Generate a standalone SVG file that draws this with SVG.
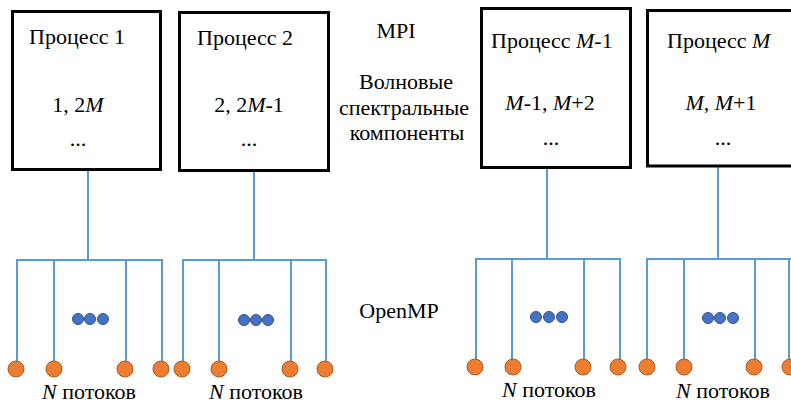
<svg xmlns="http://www.w3.org/2000/svg" width="791" height="403" viewBox="0 0 791 403">
<style>
.box{fill:#fff;stroke:#000;stroke-width:3}
.t{font-family:'Liberation Serif',serif;font-size:22px;fill:#000}
.m{text-anchor:middle}
.i{font-style:italic}
.ln{fill:none;stroke:#5B9BD5;stroke-width:2}
.th{fill:#ED7D31;stroke:#AE5A21;stroke-width:1}
.dt{fill:#4472C4;stroke:#2F528F;stroke-width:1}
</style>
<rect width="791" height="403" fill="#fff"/>
<g id="connectors">
<path class="ln" d="M88,170V260M17,362V260H162V362M54,260V362M126,260V362"/>
<path class="ln" d="M254,171V260M183,362V260H326V362M219,260V362M291,260V362"/>
<path class="ln" d="M547,168V259M476,360V259H620V360M512,259V360M584,259V360"/>
<path class="ln" d="M718,166V259M647,360V259H791M684,259V360M755,259V360M789,259V360"/>
</g>
<g id="process1">
<rect class="box" x="12.5" y="11.5" width="148" height="158"/>
<text class="t" x="29" y="44">Процесс 1</text>
<text class="t m" x="78" y="112">1, 2<tspan class="i">M</tspan></text>
<text class="t m" x="78" y="146">...</text>
</g>
<g id="process2">
<rect class="box" x="179.5" y="12.5" width="149" height="158"/>
<text class="t" x="197" y="45">Процесс 2</text>
<text class="t m" x="249" y="112">2, 2<tspan class="i">M</tspan>-1</text>
<text class="t m" x="249" y="146">...</text>
</g>
<g id="processM1">
<rect class="box" x="481.5" y="8.5" width="149" height="159"/>
<text class="t" x="491" y="48">Процесс <tspan class="i">M</tspan>-1</text>
<text class="t m" x="550" y="110"><tspan class="i">M</tspan>-1, <tspan class="i">M</tspan>+2</text>
<text class="t m" x="551" y="145">...</text>
</g>
<g id="processM">
<rect class="box" x="647.5" y="10.5" width="160" height="155.5"/>
<text class="t" x="667" y="48">Процесс <tspan class="i">M</tspan></text>
<text class="t m" x="721" y="110"><tspan class="i">M</tspan>, <tspan class="i">M</tspan>+1</text>
<text class="t m" x="723" y="145">...</text>
</g>
<g id="labels">
<text class="t m" x="396" y="38">MPI</text>
<text class="t m" x="406" y="89">Волновые</text>
<text class="t m" x="404" y="115">спектральные</text>
<text class="t m" x="407" y="140">компоненты</text>
<text class="t m" x="399" y="318">OpenMP</text>
</g>
<g id="threads1">
<circle class="th" cx="16" cy="369" r="8"/><circle class="th" cx="54" cy="369" r="8"/>
<circle class="th" cx="125" cy="369" r="8"/><circle class="th" cx="161" cy="369" r="8"/>
<circle class="dt" cx="78" cy="319" r="5.5"/><circle class="dt" cx="90" cy="319" r="5.5"/><circle class="dt" cx="103" cy="319" r="5.5"/>
<text class="t" x="42" y="399"><tspan class="i">N</tspan> потоков</text>
</g>
<g id="threads2">
<circle class="th" cx="182" cy="369" r="8"/><circle class="th" cx="219" cy="369" r="8"/>
<circle class="th" cx="290" cy="369" r="8"/><circle class="th" cx="325" cy="369" r="8"/>
<circle class="dt" cx="244" cy="320" r="5.5"/><circle class="dt" cx="256" cy="320" r="5.5"/><circle class="dt" cx="268" cy="320" r="5.5"/>
<text class="t" x="209" y="399"><tspan class="i">N</tspan> потоков</text>
</g>
<g id="threads3">
<circle class="th" cx="475" cy="367" r="8"/><circle class="th" cx="513" cy="367" r="8"/>
<circle class="th" cx="583" cy="367" r="8"/><circle class="th" cx="618" cy="367" r="8"/>
<circle class="dt" cx="536" cy="317" r="5.5"/><circle class="dt" cx="549" cy="317" r="5.5"/><circle class="dt" cx="562" cy="317" r="5.5"/>
<text class="t" x="502" y="397"><tspan class="i">N</tspan> потоков</text>
</g>
<g id="threads4">
<circle class="th" cx="647" cy="367" r="8"/><circle class="th" cx="684" cy="367" r="8"/>
<circle class="th" cx="754" cy="367" r="8"/><circle class="th" cx="790" cy="367" r="8"/>
<circle class="dt" cx="708" cy="318" r="5.5"/><circle class="dt" cx="720" cy="318" r="5.5"/><circle class="dt" cx="733" cy="318" r="5.5"/>
<text class="t" x="676" y="398"><tspan class="i">N</tspan> потоков</text>
</g>
</svg>
